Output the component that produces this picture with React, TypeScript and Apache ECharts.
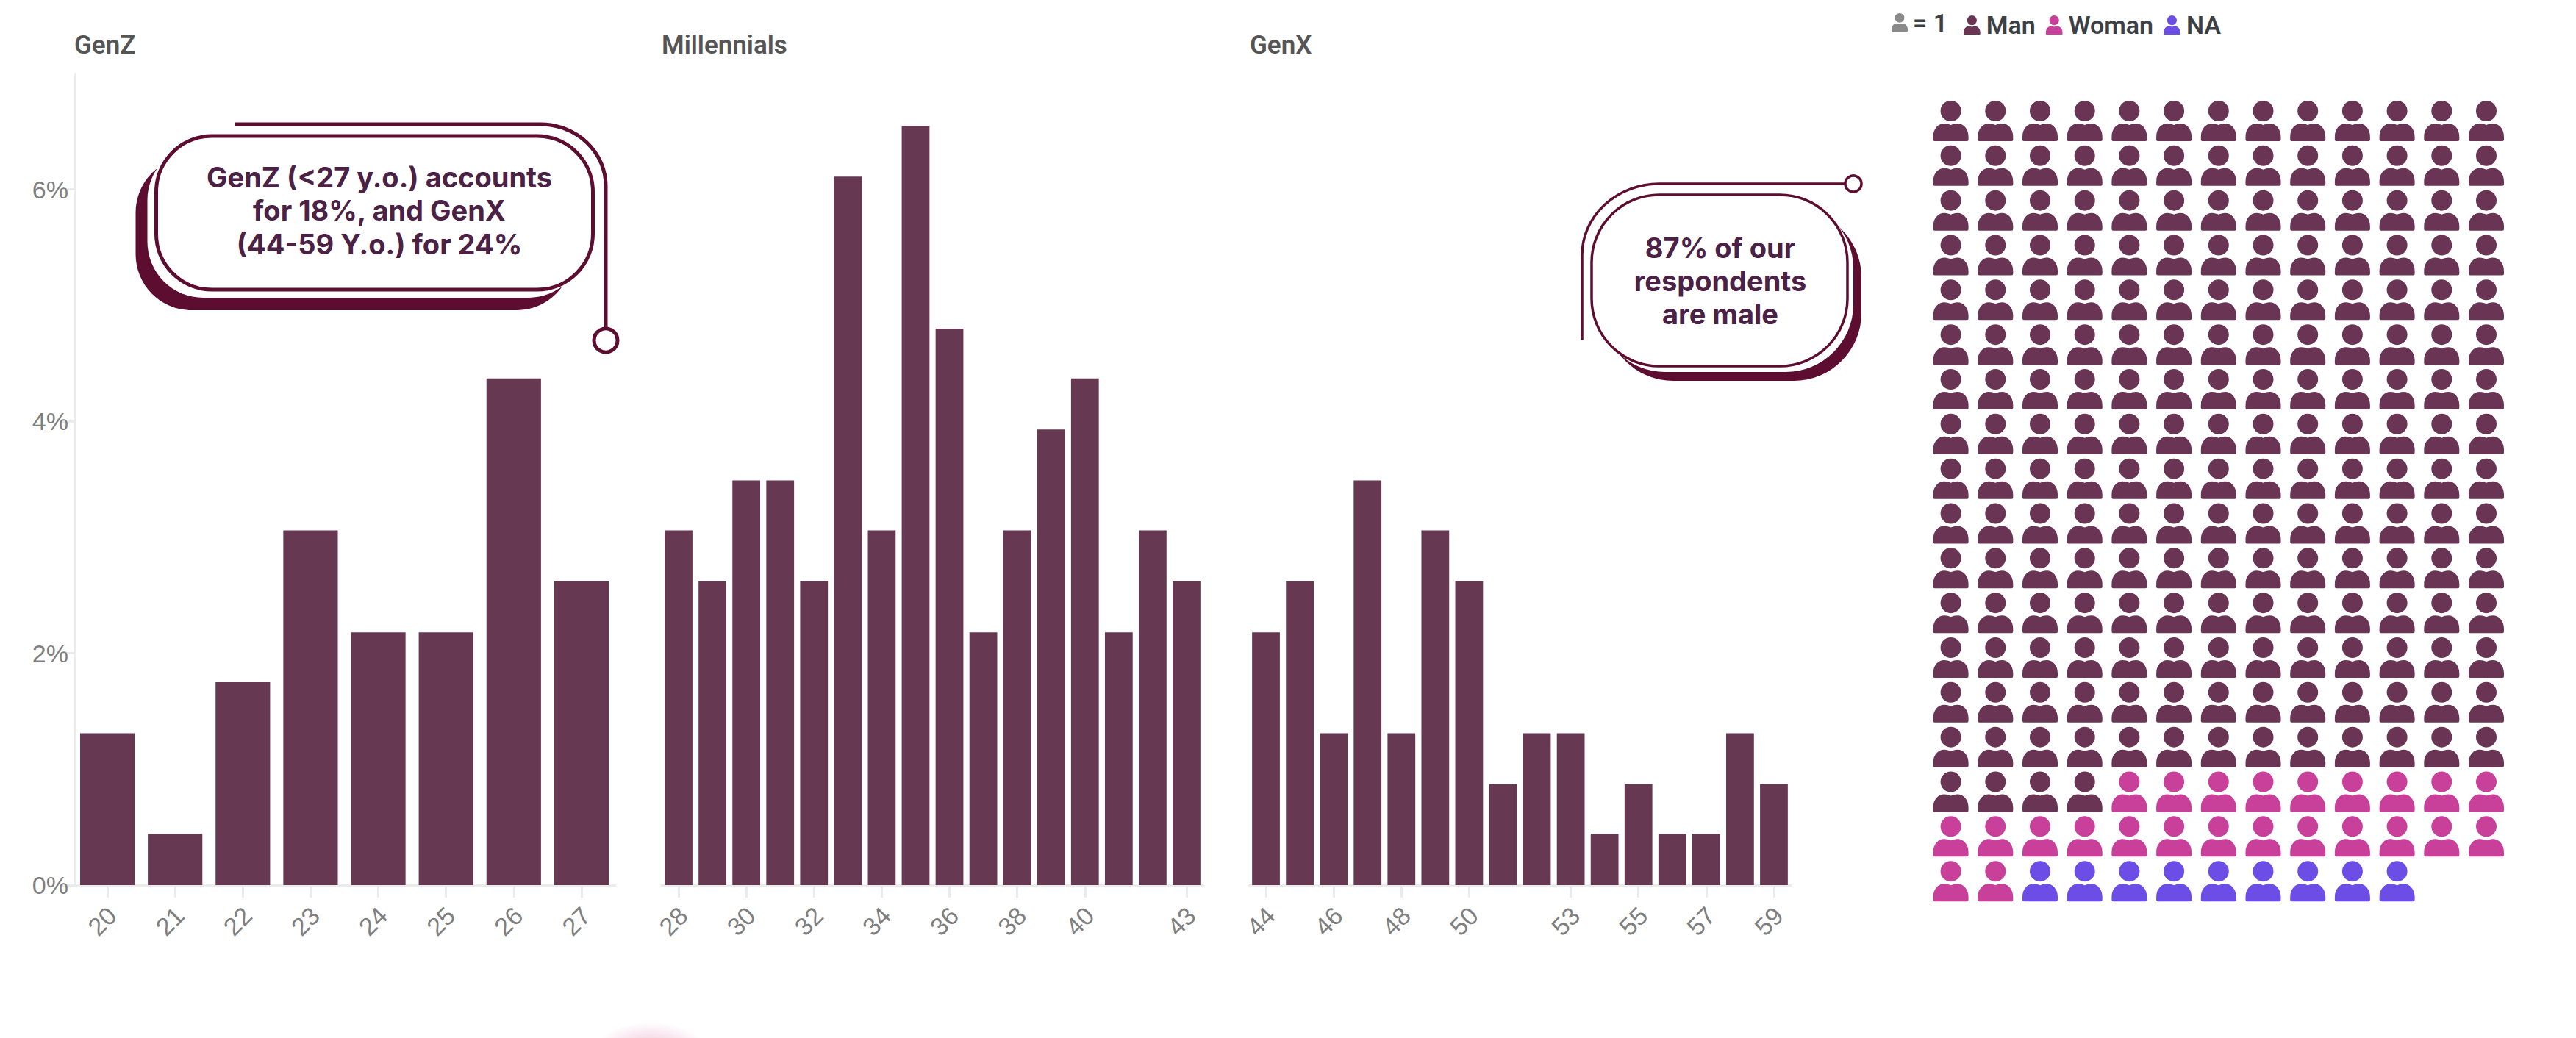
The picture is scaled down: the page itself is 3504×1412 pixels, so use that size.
import React, { useEffect, useRef } from "react";
import * as echarts from "echarts";

const genZAges = ["20", "21", "22", "23", "24", "25", "26", "27"];
const genZValues = [1.31, 0.44, 1.75, 3.06, 2.18, 2.18, 4.37, 2.62];
const millennialAges = ["28", "29", "30", "31", "32", "33", "34", "35", "36", "37", "38", "39", "40", "41", "42", "43"];
const millennialValues = [3.06, 2.62, 3.49, 3.49, 2.62, 6.11, 3.06, 6.55, 4.8, 2.18, 3.06, 3.93, 4.37, 2.18, 3.06, 2.62];
const genXAges = ["44", "45", "46", "47", "48", "49", "50", "51", "52", "53", "54", "55", "56", "57", "58", "59"];
const genXValues = [2.18, 2.62, 1.31, 3.49, 1.31, 3.06, 2.62, 0.87, 1.31, 1.31, 0.44, 0.87, 0.44, 0.44, 1.31, 0.87];

const genZLabels = genZAges;
const millennialLabels = ["28", "30", "32", "34", "36", "38", "40", "43"];
const genXLabels = ["44", "46", "48", "50", "53", "55", "57", "59"];
const yTicks = [0, 2, 4, 6];

const manCount = 199;
const womanCount = 24;
const naCount = 9;
const waffleColumns = 13;

const BAR = "#663852";
const MAN = "#6a3454";
const WOMAN = "#c8409a";
const NA = "#6c4de6";
const DARK = "#5c0d30";
const INK = "#4b2145";
const LIGHT = "#ebebeb";
const AXIS_TEXT = "#7f7f7f";

const PERSON =
  "M24 0A14 14 0 1 1 24 28A14 14 0 1 1 24 0ZM2 55Q0 55 0 53L0 49C0 38 7 31 15 31C19 31 21 32 24 33C27 32 29 31 33 31C41 31 48 38 48 49L48 53Q48 55 46 55Z";

echarts.graphic.registerShape("person", echarts.graphic.extendPath(PERSON, {}));
echarts.graphic.registerShape(
  "leaderGenZ",
  echarts.graphic.extendPath("M320 169L735 169A89 84 0 0 1 824 253L824 446", {})
);
echarts.graphic.registerShape(
  "leaderMale",
  echarts.graphic.extendPath("M2152 462L2152 347A105 97 0 0 1 2257 250L2510 250", {})
);

function personSeries(name: string, color: string, start: number, count: number) {
  const data: number[][] = [];
  for (let i = start; i < start + count; i++) {
    data.push([i % waffleColumns, Math.floor(i / waffleColumns)]);
  }
  return {
    name,
    type: "scatter",
    xAxisIndex: 3,
    yAxisIndex: 3,
    clip: false,
    symbol: "path://" + PERSON,
    symbolSize: [48, 55],
    itemStyle: { color, opacity: 1 },
    data,
  };
}

function barPanel(left: number, ages: string[], labels: string[], gap: string, index: number) {
  return {
    grid: { left, top: 100, width: 737, height: 1104 },
    xAxis: {
      type: "category",
      gridIndex: index,
      data: ages,
      axisLine: { show: true, lineStyle: { color: LIGHT, width: 3 } },
      axisTick: { show: true, alignWithLabel: true, length: 17, lineStyle: { color: LIGHT, width: 3 } },
      axisLabel: {
        show: true,
        rotate: 45,
        align: "center",
        verticalAlign: "middle",
        padding: [0, 20, 0, 0],
        margin: 42,
        fontFamily: "Liberation Sans",
        fontSize: 34,
        color: AXIS_TEXT,
        interval: (_i: number, v: string) => labels.includes(v),
      },
    },
    yAxis: {
      type: "value",
      gridIndex: index,
      min: 0,
      max: 7,
      show: index === 0,
      offset: -2,
      splitLine: { show: false },
      axisLine: { show: true, lineStyle: { color: LIGHT, width: 3 } },
      axisTick: { show: true, length: 18, customValues: yTicks, lineStyle: { color: LIGHT, width: 3 } },
      axisLabel: {
        customValues: yTicks,
        formatter: "{value}%",
        margin: 9,
        fontFamily: "Liberation Sans",
        fontSize: 34,
        color: AXIS_TEXT,
      },
    },
    gap,
  };
}

function callout(
  x: number, y: number, w: number, h: number, r: number, sw: number,
  sx: number, sy: number, wx: number, wy: number
) {
  return [
    { type: "rect", z: 10, shape: { x: x + sx, y: y + sy, width: w, height: h, r }, style: { fill: DARK } },
    { type: "rect", z: 11, shape: { x: x + wx, y: y + wy, width: w, height: h, r }, style: { fill: "#fff" } },
    { type: "rect", z: 12, shape: { x, y, width: w, height: h, r }, style: { fill: "#fff", stroke: DARK, lineWidth: sw } },
  ];
}

export default function App() {
  const ref = useRef<HTMLDivElement>(null);
  useEffect(() => {
    document.body.style.margin = "0";
    const chart = echarts.init(ref.current!, null, { renderer: "svg" });
    const panels = [
      barPanel(100, genZAges, genZLabels, "19.5%", 0),
      barPanel(900, millennialAges, millennialLabels, "18%", 1),
      barPanel(1699, genXAges, genXLabels, "18%", 2),
    ];
    const values = [genZValues, millennialValues, genXValues];
    const titleStyle = { fontFamily: "Roboto", fontSize: 35, fontWeight: 600, color: "#555555" };
    chart.setOption({
      animation: false,
      backgroundColor: "#ffffff",
      title: [
        { text: "GenZ", left: 101, top: 44, padding: 0, textStyle: titleStyle },
        { text: "Millennials", left: 900, top: 44, padding: 0, textStyle: titleStyle },
        { text: "GenX", left: 1700, top: 44, padding: 0, textStyle: titleStyle },
      ],
      legend: {
        left: 2671,
        top: 17,
        padding: 0,
        itemWidth: 23,
        itemHeight: 26,
        itemGap: 14,
        icon: "path://" + PERSON,
        data: ["Man", "Woman", "NA"],
        selectedMode: false,
        textStyle: { fontFamily: "Roboto", fontSize: 34, fontWeight: 600, color: "#3c3f44", padding: [0, 0, 0, 3] },
      },
      grid: [
        ...panels.map((p) => p.grid),
        { left: 2653.6, top: 164.5, width: 728.4, height: 1034.2 },
      ],
      xAxis: [
        ...panels.map((p) => p.xAxis),
        { type: "value", gridIndex: 3, min: 0, max: 12, show: false },
      ],
      yAxis: [
        ...panels.map((p) => p.yAxis),
        { type: "value", gridIndex: 3, min: 0, max: 17, inverse: true, show: false },
      ],
      series: [
        ...values.map((data, i) => ({
          type: "bar",
          name: ["GenZ", "Millennials", "GenX"][i],
          xAxisIndex: i,
          yAxisIndex: i,
          barCategoryGap: panels[i].gap,
          itemStyle: { color: BAR },
          data,
        })),
        personSeries("Man", MAN, 0, manCount),
        personSeries("Woman", WOMAN, manCount, womanCount),
        personSeries("NA", NA, manCount + womanCount, naCount),
      ],
      graphic: [
        ...callout(212.5, 185, 594, 209, 76, 5, -28, 28, -12, 11),
        { type: "leaderGenZ", z: 13, style: { fill: "none", stroke: DARK, lineWidth: 5 } },
        { type: "circle", z: 13, shape: { cx: 824, cy: 463, r: 16 }, style: { fill: "#fff", stroke: DARK, lineWidth: 5 } },
        {
          type: "text", z: 14,
          style: {
            text: "GenZ (<27 y.o.) accounts\nfor 18%, and GenX\n(44-59 Y.o.) for 24%",
            x: 516, y: 286, align: "center", verticalAlign: "middle",
            fontFamily: "Inter", fontSize: 38, fontWeight: 700, lineHeight: 45.5, fill: INK,
          },
        },
        ...callout(2165, 265, 348, 233, 92, 3.5, 19, 20, 8, 8),
        { type: "leaderMale", z: 13, style: { fill: "none", stroke: DARK, lineWidth: 3.5 } },
        { type: "circle", z: 13, shape: { cx: 2521, cy: 250, r: 11 }, style: { fill: "#fff", stroke: DARK, lineWidth: 3.5 } },
        {
          type: "text", z: 14,
          style: {
            text: "87% of our\nrespondents\nare male",
            x: 2340, y: 382, align: "center", verticalAlign: "middle",
            fontFamily: "Inter", fontSize: 38, fontWeight: 700, lineHeight: 45, fill: INK,
          },
        },
        { type: "person", x: 2573, y: 18, scaleX: 22 / 48, scaleY: 25 / 55, style: { fill: "#8a8a8a" } },
        {
          type: "text",
          style: {
            text: "= 1", x: 2602, y: 31, verticalAlign: "middle",
            fontFamily: "Roboto", fontSize: 34, fontWeight: 600, fill: "#3c3f44",
          },
        },
        {
          type: "ellipse",
          shape: { cx: 885, cy: 1440, rx: 82, ry: 50 },
          style: {
            fill: new echarts.graphic.RadialGradient(0.5, 0.5, 0.5, [
              { offset: 0, color: "rgba(200,70,130,0.4)" },
              { offset: 0.55, color: "rgba(200,70,130,0.18)" },
              { offset: 1, color: "rgba(200,70,130,0)" },
            ]),
          },
        },
      ],
    });
    return () => chart.dispose();
  }, []);
  return <div ref={ref} style={{ position: "fixed", left: 0, top: 0, width: 3504, height: 1412 }} />;
}
